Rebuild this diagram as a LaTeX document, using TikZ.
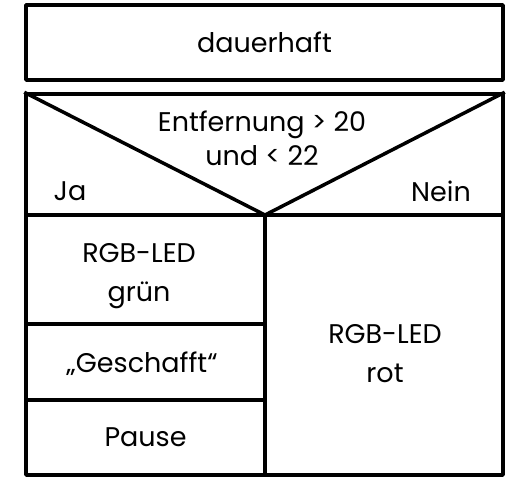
\documentclass[tikz,border=0pt]{standalone}
\usepackage{fontspec}
\setmainfont{Poppins}

\begin{document}
\begin{tikzpicture}[x=1pt,y=-1pt,
    cell/.style={shape=rectangle,draw=black,line width=3.5pt,line join=round,inner sep=0pt,
                 align=center,font=\fontsize{27}{37}\selectfont},
    txt/.style={align=center,font=\fontsize{27}{39}\selectfont}]
    \useasboundingbox (0,0) rectangle (512,480);
    \node[cell,minimum width=477pt,minimum height=75pt] (loop) at (264.5,42.5) {dauerhaft};
    \node[cell,minimum width=477pt,minimum height=121pt] (cond) at (264.5,154.5) {};
    \coordinate (apex) at (265,215);
    \node[txt,font=\fontsize{27}{34}\selectfont] (condtext) at (262,138) {Entfernung > 20\\und < 22};
    \node[txt] (ja) at (70,191) {Ja};
    \node[txt] (nein) at (441,191) {Nein};
    \node[cell,minimum width=239pt,minimum height=109pt] (gruen) at (145.5,269.5) {};
    \node[cell,minimum width=239pt,minimum height=76pt] (text) at (145.5,362) {};
    \node[cell,minimum width=239pt,minimum height=75pt] (pause) at (145.5,437.5) {Pause};
    \node[cell,minimum width=238pt,minimum height=260pt] (rot) at (384,345) {};
    \node[txt] (gruentext) at (139,276) {RGB-LED\\grün};
    \node[txt] (geschafft) at (142,364) {„Geschafft“};
    \node[txt] (rottext) at (385,354) {RGB-LED\\rot};
    \draw[line width=3.5pt,line join=round] (cond.north west) -- (apex) -- (cond.north east);
\end{tikzpicture}
\end{document}
